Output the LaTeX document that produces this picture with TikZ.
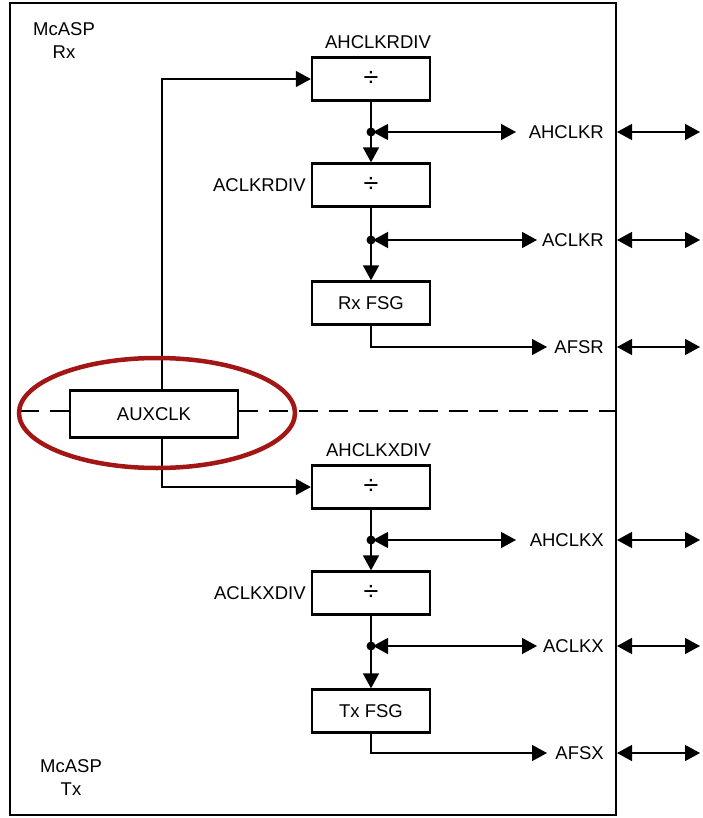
\documentclass[tikz,border=0pt]{standalone}
\usepackage{fontspec}
\setmainfont{Liberation Sans}
\usetikzlibrary{arrows.meta}
\definecolor{ellred}{RGB}{163,22,22}
\newcommand{\divsym}{{\fontsize{27}{27}\selectfont ÷}}
\begin{document}
\begin{tikzpicture}[x=1pt,y=-1pt,
  blk/.style={draw,line width=2.3pt,minimum width=118pt,minimum height=43pt,inner sep=0pt,font=\fontsize{18.5}{22}\selectfont},
  lbl/.style={font=\fontsize{18.5}{23}\selectfont,inner sep=0pt},
  conn/.style={line width=1.4pt},
  tipA/.tip={Triangle[length=15pt,width=16pt]},
  dot/.style={circle,fill,inner sep=0pt,minimum size=9pt}]
\useasboundingbox (0,0) rectangle (702,818);
% outer frame
\draw[line width=2.6pt] (10,3) rectangle (616,815);
% labels top-left and bottom-left
\node[lbl,align=center] (rxl) at (64,41) {McASP\\Rx};
\node[lbl,align=center] (txl) at (71,778) {McASP\\Tx};
% blocks
\node[blk] (d1) at (371,79) {\divsym};
\node[blk] (d2) at (371,185) {\divsym};
\node[blk] (f1) at (371,303) {Rx FSG};
\node[blk,minimum width=168pt,minimum height=47pt] (aux) at (154,414) {AUXCLK};
\node[blk] (d4) at (371,487) {\divsym};
\node[blk] (d5) at (371,593) {\divsym};
\node[blk] (f2) at (371,711) {Tx FSG};
% block labels
\node[lbl,anchor=south east] (d1l) at ([yshift=7pt]d1.north east) {AHCLKRDIV};
\node[lbl,anchor=east] (d2l) at ([xshift=-5pt]d2.west) {ACLKRDIV};
\node[lbl,anchor=south east] (d4l) at ([yshift=7pt]d4.north east) {AHCLKXDIV};
\node[lbl,anchor=east] (d5l) at ([xshift=-5pt]d5.west) {ACLKXDIV};
% right labels
\node[lbl,anchor=east] (r1) at (604,132) {AHCLKR};
\node[lbl,anchor=east] (r2) at (604,240) {ACLKR};
\node[lbl,anchor=east] (r3) at (604,347) {AFSR};
\node[lbl,anchor=east] (r4) at (604,540) {AHCLKX};
\node[lbl,anchor=east] (r5) at (604,646) {ACLKX};
\node[lbl,anchor=east] (r6) at (604,753) {AFSX};
% junctions
\coordinate (j1) at (371,132);
\coordinate (j2) at (371,240);
\coordinate (j4) at (371,540);
\coordinate (j5) at (371,646);
% arrow ends
\coordinate (e1) at (516,132);
\coordinate (e2) at (537,240);
\coordinate (e3) at (547,347);
\coordinate (e4) at (516,540);
\coordinate (e5) at (537,646);
\coordinate (e6) at (547,753);
% AUXCLK feeds
\draw[conn,-tipA] ([xshift=8pt]aux.north) |- (d1.west);
\draw[conn,-tipA] ([xshift=8pt]aux.south) |- (d4.west);
% vertical chain
\draw[conn,-tipA] (d1.south) -- (d2.north);
\draw[conn,-tipA] (d2.south) -- (f1.north);
\draw[conn,-tipA] (d4.south) -- (d5.north);
\draw[conn,-tipA] (d5.south) -- (f2.north);
% horizontal taps
\draw[conn,tipA-tipA] ([xshift=2pt]j1) -- (e1);
\draw[conn,tipA-tipA] ([xshift=2pt]j2) -- (e2);
\draw[conn,-tipA] (f1.south) |- (e3);
\draw[conn,tipA-tipA] ([xshift=2pt]j4) -- (e4);
\draw[conn,tipA-tipA] ([xshift=2pt]j5) -- (e5);
\draw[conn,-tipA] (f2.south) |- (e6);
\foreach \j in {j1,j2,j4,j5} \node[dot] at (\j) {};
% external pins
\foreach \yy/\n in {132/o1,240/o2,347/o3,540/o4,646/o5,753/o6}{
  \coordinate (\n a) at (617,\yy);
  \coordinate (\n b) at (700,\yy);
  \draw[conn,tipA-tipA] (\n a) -- (\n b);
}
% Rx/Tx divider
\draw[line width=1.3pt,dash pattern=on 19pt off 11pt] (20,411) -- (aux.west |- 0,411);
\draw[line width=1.3pt,dash pattern=on 19pt off 11pt] (aux.east |- 0,411) -- (616,411);
% highlight ellipse
\draw[ellred,line width=4.5pt] (157,413) ellipse [x radius=138, y radius=55];
\end{tikzpicture}
\end{document}
